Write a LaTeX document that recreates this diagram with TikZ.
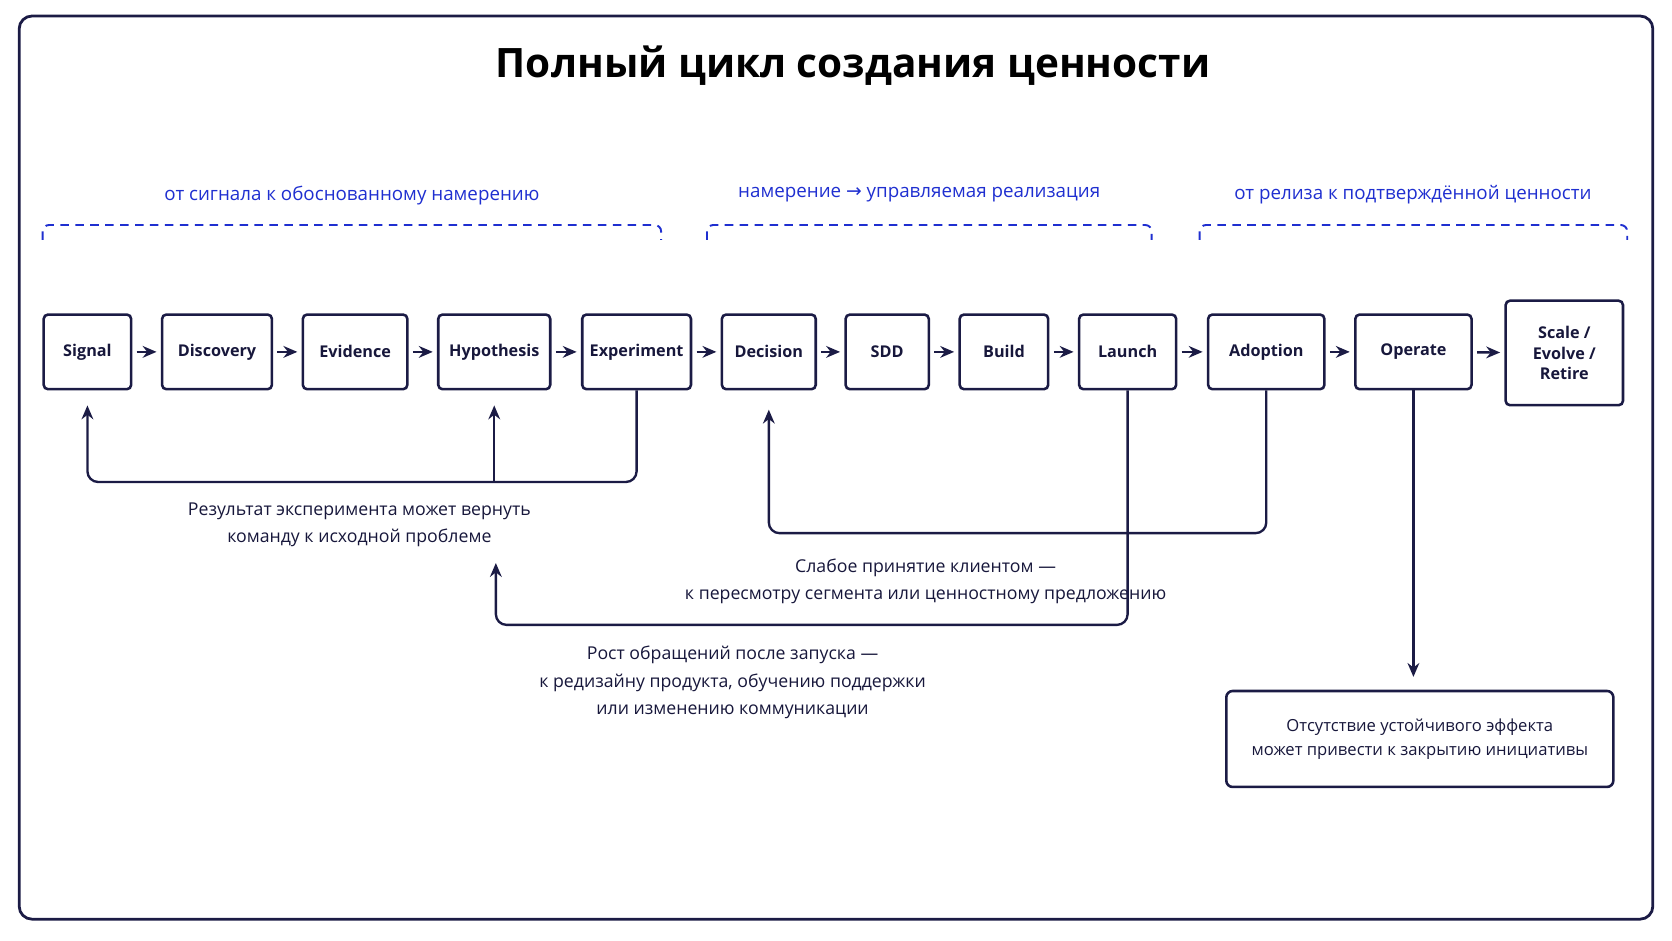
\documentclass[tikz,border=0pt]{standalone}
\usepackage{fontspec}
\setmainfont{Open Sans}
\newfontfamily\arrowfont{DejaVu Sans}
\usetikzlibrary{arrows.meta,positioning,calc}
\definecolor{ink}{HTML}{1B1B45}
\definecolor{phase}{HTML}{1F2FD0}
\tikzset{
  stage/.style={draw=ink,line width=1.2pt,rounded corners=2pt,minimum height=35pt,
    inner xsep=0pt,font=\fontsize{7.6}{9.5}\selectfont\bfseries\color{ink!85!black},align=center},
  flow/.style={draw=ink,line width=1.1pt,-{Stealth[length=6.5pt,width=5.5pt]}},
  back/.style={draw=ink,line width=1.1pt,rounded corners=5pt,-{Stealth[length=6.5pt,width=5.5pt]}},
  note/.style={font=\fontsize{8.3}{12.5}\selectfont\color{ink!85!black},align=center},
  brace/.style={draw=phase,line width=0.9pt,dash pattern=on 4pt off 3pt,rounded corners=3pt},
  phasetxt/.style={font=\fontsize{8.8}{11}\selectfont\color{phase}}
}
\begin{document}
\begin{tikzpicture}[x=0.5pt,y=-0.5pt]
\useasboundingbox (0,0) rectangle (1568,882);
\draw[ink,line width=1.3pt,rounded corners=6pt] (18,15) rectangle (1550,862);

\node[font=\fontsize{19}{22}\selectfont\bfseries,text=black] (title) at (800,62) {Полный цикл создания ценности};

% Фазы
\node[phasetxt] (ph1) at (330,183) {от сигнала к обоснованному намерению};
\node[phasetxt] (ph2) at (862,183) {намерение {\arrowfont →} управляемая реализация};
\node[phasetxt] (ph3) at (1325,183) {от релиза к подтверждённой ценности};
\draw[brace] (40,225) |- (620,211) -- (620,225);
\draw[brace] (663,225) |- (1080,211) -- (1080,225);
\draw[brace] (1125,225) |- (1526,211) -- (1526,225);

% Этапы
\node[stage,minimum width=41pt] (sig) at (82,330) {Signal};
\node[stage,minimum width=51.5pt] (dis) at (203.5,330) {Discovery};
\node[stage,minimum width=49pt] (evi) at (333,330) {Evidence};
\node[stage,minimum width=52.5pt] (hyp) at (463.5,330) {Hypothesis};
\node[stage,minimum width=51pt] (exp) at (597,330) {Experiment};
\node[stage,minimum width=44pt] (dec) at (721,330) {Decision};
\node[stage,minimum width=39pt] (sdd) at (832,330) {SDD};
\node[stage,minimum width=41.5pt] (bui) at (941.5,330) {Build};
\node[stage,minimum width=45.5pt] (lau) at (1057.5,330) {Launch};
\node[stage,minimum width=54.5pt] (ado) at (1187.5,330) {Adoption};
\node[stage,minimum width=54.5pt] (ope) at (1325.5,330) {Operate};
\node[stage,minimum width=55pt,minimum height=49pt] (sca) at (1467,331) {Scale /\\Evolve /\\Retire};

\foreach \a/\b in {sig/dis,dis/evi,evi/hyp,hyp/exp,exp/dec,dec/sdd,sdd/bui,bui/lau,lau/ado,ado/ope,ope/sca}
  \draw[flow,shorten <=2pt,shorten >=2pt] (\a) -- (\b);

% Обратные связи
\coordinate (e1) at (596,452);
\coordinate (e2) at (1186,500);
\coordinate (e3) at (1055,586);
\draw[back,shorten >=7pt] (exp.south) -- (exp.south |- e1) -| (sig.south);
\draw[flow,shorten >=7pt] (hyp.south |- e1) -- (hyp.south);
\draw[back,shorten >=9pt] (ado.south) -- (ado.south |- e2) -| (dec.south);
\node[note] (n1) at (337,492) {Результат эксперимента может вернуть\\команду к исходной проблеме};
\node[note] (n2) at (868,545) {Слабое принятие клиентом —\\к пересмотру сегмента или ценностному предложению};
\draw[back] (lau.south) -- (lau.south |- e3) -| (465,528);
\node[note,font=\fontsize{8.3}{13}\selectfont\color{ink!85!black}] (n3) at (687,640) {Рост обращений после запуска —\\к редизайну продукта, обучению поддержки\\или изменению коммуникации};

\node[draw=ink,line width=1.2pt,rounded corners=3pt,minimum width=181.5pt,minimum height=45pt,
  font=\fontsize{7.8}{11.5}\selectfont\color{ink!85!black},align=center] (end) at (1331.5,693)
  {Отсутствие устойчивого эффекта\\может привести к закрытию инициативы};
\draw[flow,shorten >=6pt] (ope.south) -- (ope.south |- end.north);
\end{tikzpicture}
\end{document}
